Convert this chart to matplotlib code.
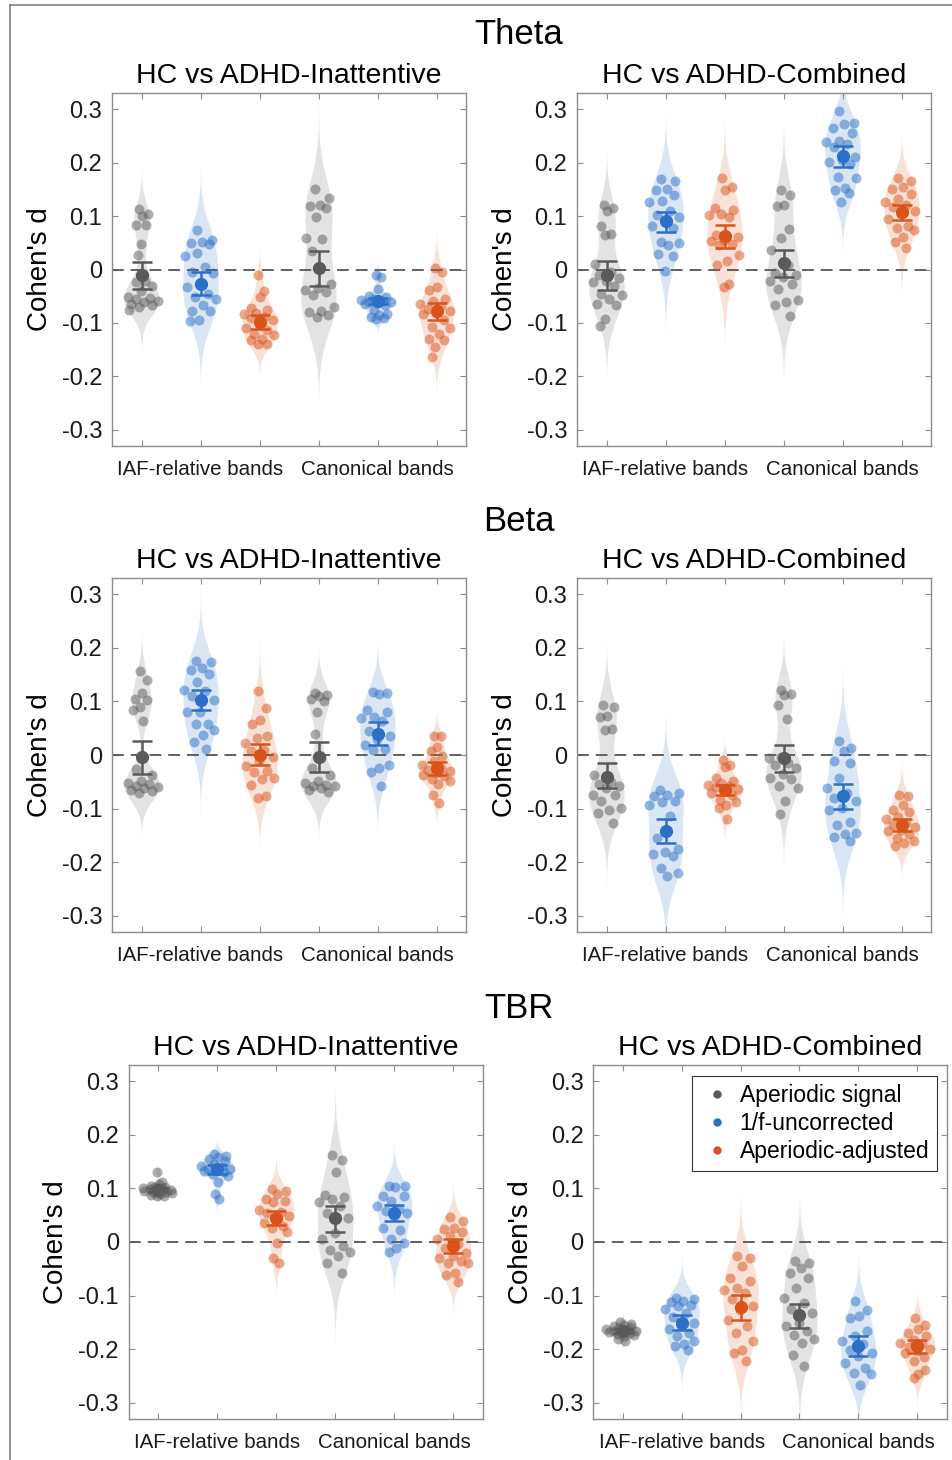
import numpy as np
import matplotlib
matplotlib.use("Agg")
import matplotlib.pyplot as plt
from matplotlib.lines import Line2D

plt.rcParams['font.family'] = ['Liberation Sans', 'DejaVu Sans']
plt.rcParams['lines.scale_dashes'] = False

# ---- data: Cohen's d per electrode ----
# order inside each panel: IAF-relative (aperiodic, uncorrected, adjusted),
# canonical (aperiodic, uncorrected, adjusted)
theta_inatt = [
    [0.113, 0.103, 0.100, 0.083, 0.083, 0.048, 0.028, -0.022, -0.024, -0.030,
     -0.040, -0.052, -0.053, -0.055, -0.058, -0.060, -0.064, -0.067, -0.070, -0.075],
    [0.074, 0.056, 0.052, 0.050, 0.047, 0.030, 0.026, 0.004, -0.004, -0.006,
     -0.025, -0.033, -0.045, -0.052, -0.056, -0.067, -0.077, -0.078, -0.094, -0.097],
    [-0.011, -0.041, -0.052, -0.072, -0.075, -0.082, -0.084, -0.088, -0.090, -0.095,
     -0.102, -0.110, -0.114, -0.120, -0.123, -0.130, -0.131, -0.139, -0.140],
    [0.151, 0.133, 0.121, 0.118, 0.115, 0.098, 0.059, 0.057, 0.034, -0.027,
     -0.035, -0.039, -0.042, -0.047, -0.070, -0.077, -0.080, -0.085, -0.088],
    [-0.011, -0.014, -0.037, -0.050, -0.052, -0.055, -0.057, -0.058, -0.060, -0.061,
     -0.062, -0.064, -0.066, -0.075, -0.084, -0.086, -0.089, -0.090, -0.092],
    [0.002, -0.005, -0.033, -0.038, -0.055, -0.059, -0.064, -0.068, -0.073, -0.078,
     -0.082, -0.084, -0.095, -0.108, -0.109, -0.120, -0.130, -0.131, -0.145, -0.163],
]
theta_inatt_mean = [-0.010, -0.027, -0.098, 0.002, -0.059, -0.078]
theta_inatt_ci = [(-0.037, 0.014), (-0.047, -0.005), (-0.112, -0.085),
                  (-0.030, 0.034), (-0.065, -0.053), (-0.095, -0.062)]

theta_comb = [
    [0.120, 0.115, 0.109, 0.082, 0.067, 0.065, 0.011, -0.005, -0.011, -0.015,
     -0.022, -0.024, -0.030, -0.045, -0.047, -0.055, -0.064, -0.067, -0.092, -0.105],
    [0.169, 0.166, 0.150, 0.148, 0.140, 0.128, 0.126, 0.110, 0.101, 0.099,
     0.090, 0.082, 0.078, 0.051, 0.049, 0.045, 0.029, 0.025, -0.003],
    [0.171, 0.155, 0.148, 0.115, 0.112, 0.104, 0.101, 0.099, 0.065, 0.060,
     0.055, 0.053, 0.047, 0.045, 0.028, 0.016, 0.009, -0.028, -0.033],
    [0.148, 0.140, 0.121, 0.118, 0.076, 0.059, 0.036, 0.009, -0.007, -0.010,
     -0.014, -0.022, -0.028, -0.036, -0.057, -0.061, -0.067, -0.087],
    [0.296, 0.274, 0.272, 0.265, 0.255, 0.241, 0.238, 0.235, 0.229, 0.210,
     0.205, 0.201, 0.198, 0.173, 0.171, 0.153, 0.149, 0.143, 0.126],
    [0.171, 0.166, 0.154, 0.150, 0.141, 0.132, 0.127, 0.120, 0.117, 0.110,
     0.103, 0.095, 0.082, 0.078, 0.073, 0.060, 0.051, 0.040],
]
theta_comb_mean = [-0.011, 0.090, 0.062, 0.012, 0.212, 0.107]
theta_comb_ci = [(-0.038, 0.015), (0.070, 0.107), (0.040, 0.084),
                 (-0.014, 0.037), (0.191, 0.230), (0.092, 0.121)]

beta_inatt = [
    [0.156, 0.140, 0.116, 0.105, 0.103, 0.089, 0.084, 0.063, -0.027, -0.037,
     -0.048, -0.052, -0.054, -0.057, -0.060, -0.062, -0.065, -0.068, -0.071],
    [0.176, 0.173, 0.162, 0.159, 0.151, 0.137, 0.122, 0.120, 0.110, 0.103,
     0.081, 0.080, 0.058, 0.057, 0.047, 0.038, 0.024, 0.012],
    [0.120, 0.088, 0.066, 0.058, 0.035, 0.032, 0.022, 0.010, 0.007, -0.004,
     -0.012, -0.021, -0.030, -0.032, -0.042, -0.044, -0.055, -0.077, -0.081],
    [0.116, 0.112, 0.110, 0.105, 0.100, 0.080, 0.039, -0.006, -0.025, -0.037,
     -0.049, -0.052, -0.055, -0.057, -0.058, -0.062, -0.065, -0.069],
    [0.117, 0.116, 0.114, 0.084, 0.081, 0.070, 0.069, 0.063, 0.044, 0.035,
     0.030, 0.019, 0.012, 0.010, -0.018, -0.024, -0.032, -0.058],
    [0.035, 0.036, 0.014, 0.007, -0.002, -0.012, -0.018, -0.024, -0.028, -0.030,
     -0.034, -0.037, -0.040, -0.044, -0.048, -0.054, -0.075, -0.089],
]
beta_inatt_mean = [-0.004, 0.102, 0.000, -0.004, 0.040, -0.025]
beta_inatt_ci = [(-0.035, 0.027), (0.083, 0.122), (-0.018, 0.020),
                 (-0.032, 0.024), (0.019, 0.061), (-0.037, -0.013)]

beta_comb = [
    [0.094, 0.089, 0.072, 0.070, 0.048, 0.047, -0.037, -0.050, -0.054, -0.057,
     -0.062, -0.074, -0.075, -0.085, -0.099, -0.102, -0.108, -0.127],
    [-0.066, -0.071, -0.074, -0.077, -0.085, -0.088, -0.093, -0.114, -0.155, -0.176,
     -0.180, -0.185, -0.188, -0.211, -0.220, -0.226],
    [-0.009, -0.018, -0.023, -0.043, -0.048, -0.052, -0.055, -0.058, -0.060, -0.064,
     -0.068, -0.071, -0.075, -0.083, -0.088, -0.093, -0.099, -0.120],
    [0.122, 0.114, 0.112, 0.094, 0.068, -0.004, -0.006, -0.015, -0.018, -0.024,
     -0.035, -0.043, -0.045, -0.058, -0.061, -0.085, -0.110],
    [0.027, 0.013, 0.007, -0.012, -0.015, -0.043, -0.061, -0.070, -0.080, -0.086,
     -0.099, -0.102, -0.124, -0.130, -0.145, -0.148, -0.153, -0.161],
    [-0.074, -0.077, -0.093, -0.102, -0.106, -0.115, -0.120, -0.127, -0.130, -0.135,
     -0.140, -0.142, -0.148, -0.155, -0.161, -0.164, -0.170],
]
beta_comb_mean = [-0.041, -0.142, -0.065, -0.006, -0.077, -0.131]
beta_comb_ci = [(-0.061, -0.014), (-0.164, -0.119), (-0.075, -0.055),
                (-0.032, 0.019), (-0.101, -0.054), (-0.141, -0.120)]

tbr_inatt = [
    [0.130, 0.111, 0.109, 0.105, 0.103, 0.102, 0.100, 0.099, 0.098, 0.097,
     0.096, 0.095, 0.094, 0.093, 0.092, 0.090, 0.088, 0.086, 0.085],
    [0.164, 0.161, 0.158, 0.155, 0.151, 0.146, 0.142, 0.139, 0.137, 0.136,
     0.134, 0.133, 0.130, 0.127, 0.123, 0.111, 0.089, 0.081],
    [0.098, 0.095, 0.089, 0.080, 0.077, 0.074, 0.060, 0.056, 0.055, 0.049,
     0.045, 0.036, 0.030, 0.027, 0.019, -0.001, -0.029, -0.039],
    [0.162, 0.153, 0.130, 0.087, 0.083, 0.080, 0.075, 0.067, 0.055, 0.044,
     0.017, 0.005, -0.007, -0.014, -0.019, -0.027, -0.040, -0.057],
    [0.105, 0.104, 0.103, 0.086, 0.085, 0.077, 0.067, 0.062, 0.058, 0.055,
     0.049, 0.027, 0.022, 0.005, -0.001, -0.011, -0.019],
    [0.047, 0.039, 0.027, 0.024, 0.019, 0.011, 0.005, -0.004, -0.011, -0.020,
     -0.026, -0.030, -0.036, -0.039, -0.040, -0.057, -0.062, -0.075],
]
tbr_inatt_mean = [0.097, 0.136, 0.045, 0.044, 0.055, -0.007]
tbr_inatt_ci = [(0.094, 0.100), (0.127, 0.144), (0.031, 0.058),
                (0.019, 0.067), (0.040, 0.069), (-0.020, 0.005)]

tbr_comb = [
    [-0.150, -0.153, -0.155, -0.157, -0.159, -0.161, -0.162, -0.164, -0.165, -0.166,
     -0.167, -0.168, -0.170, -0.172, -0.174, -0.176, -0.180, -0.185],
    [-0.104, -0.107, -0.110, -0.112, -0.117, -0.120, -0.125, -0.132, -0.140, -0.151,
     -0.157, -0.163, -0.170, -0.176, -0.185, -0.191, -0.194, -0.201],
    [-0.026, -0.030, -0.045, -0.067, -0.073, -0.085, -0.089, -0.095, -0.107, -0.120,
     -0.126, -0.145, -0.157, -0.169, -0.185, -0.201, -0.207, -0.222],
    [-0.036, -0.039, -0.048, -0.057, -0.067, -0.085, -0.104, -0.113, -0.125, -0.132,
     -0.151, -0.157, -0.165, -0.173, -0.180, -0.188, -0.210, -0.231],
    [-0.110, -0.126, -0.138, -0.141, -0.165, -0.176, -0.185, -0.191, -0.201, -0.207,
     -0.213, -0.226, -0.235, -0.244, -0.247, -0.266],
    [-0.141, -0.154, -0.163, -0.170, -0.176, -0.183, -0.188, -0.191, -0.195, -0.200,
     -0.204, -0.207, -0.215, -0.222, -0.238, -0.247, -0.254],
]
tbr_comb_mean = [-0.166, -0.151, -0.121, -0.137, -0.194, -0.194]
tbr_comb_ci = [(-0.169, -0.163), (-0.164, -0.136), (-0.145, -0.098),
               (-0.160, -0.115), (-0.213, -0.176), (-0.207, -0.183)]

band_titles = ['Theta', 'Beta', 'TBR']
panel_titles = ['HC vs ADHD-Inattentive', 'HC vs ADHD-Combined']
group_labels = ['IAF-relative bands', 'Canonical bands']
series_names = ['Aperiodic signal', '1/f-uncorrected', 'Aperiodic-adjusted']
yticks = [0.3, 0.2, 0.1, 0, -0.1, -0.2, -0.3]

# ---- styling ----
GRAY, BLUE, ORANGE = '#5a5a5a', '#2c6fc7', '#d9531a'
colors = [GRAY, BLUE, ORANGE, GRAY, BLUE, ORANGE]
HALF_W = 0.3
W, H = 952, 1460

# axes boxes in pixels (left, top, right, bottom)
boxes = [
    [(112, 93, 466, 446), (577, 93, 931, 446)],
    [(112, 578, 466, 932), (577, 578, 931, 932)],
    [(128.5, 1065, 482.7, 1419), (593.3, 1065, 946.7, 1419)],
]
band_title_y = [35, 522, 1008]

panels = [
    [(theta_inatt, theta_inatt_mean, theta_inatt_ci), (theta_comb, theta_comb_mean, theta_comb_ci)],
    [(beta_inatt, beta_inatt_mean, beta_inatt_ci), (beta_comb, beta_comb_mean, beta_comb_ci)],
    [(tbr_inatt, tbr_inatt_mean, tbr_inatt_ci), (tbr_comb, tbr_comb_mean, tbr_comb_ci)],
]


def ks_bandwidth(x):
    # same rule of thumb as MATLAB ksdensity
    sig = np.median(np.abs(x - np.median(x))) / 0.6745
    if sig <= 0:
        sig = np.std(x)
    return sig * (4.0 / (3.0 * len(x))) ** 0.2


def violin(ax, pos, vals, color):
    x = np.asarray(vals, float)
    bw = ks_bandwidth(x)
    grid = np.linspace(x.min() - 3 * bw, x.max() + 3 * bw, 200)
    dens = np.exp(-0.5 * ((grid[:, None] - x[None, :]) / bw) ** 2).sum(axis=1)
    dens = dens / dens.max() * HALF_W
    ax.fill_betweenx(grid, pos - dens, pos + dens, color=color, alpha=0.17,
                     lw=0, zorder=1)
    # spread points inside the violin outline
    n = len(x)
    jit = ((np.arange(n) * 0.618034 + 0.31) % 1.0) * 2 - 1
    spread = np.interp(x, grid, dens)
    ax.scatter(pos + jit * spread, x, s=52, color=color, alpha=0.5,
               lw=0, zorder=3)


fig = plt.figure(figsize=(W / 100, H / 100), dpi=100)

for r in range(3):
    fig.text(519 / W, 1 - band_title_y[r] / H, band_titles[r], ha='center',
             va='center', fontsize=25)
    for c in range(2):
        l, t, rr, b = boxes[r][c]
        ax = fig.add_axes([l / W, 1 - b / H, (rr - l) / W, (b - t) / H])
        data, means, cis = panels[r][c]
        ax.axhline(0, color='#555555', lw=1.3, dashes=(8.5, 5), zorder=2)
        for i, vals in enumerate(data):
            violin(ax, i + 1, vals, colors[i])
            lo, hi = cis[i]
            ax.errorbar([i + 1], [means[i]], yerr=[[means[i] - lo], [hi - means[i]]],
                        fmt='o', color=colors[i], ms=8.5, lw=1.8, capsize=7.5,
                        capthick=1.8, zorder=4)
        ax.set_xlim(0.5, 6.5)
        ax.set_ylim(-0.33, 0.33)
        ax.set_xticks([1, 2, 3, 4, 5, 6])
        ax.set_xticklabels(['', group_labels[0], '', '', group_labels[1], ''],
                           fontsize=14.8, color='#1a1a1a')
        ax.set_yticks(yticks)
        ax.set_yticklabels([('%g' % v).replace('\u2212', '-') for v in yticks],
                           fontsize=17, color='#1a1a1a')
        ax.tick_params(direction='in', top=True, right=True, length=4,
                       width=0.8, color='#8c8c8c')
        ax.tick_params(axis='x', pad=10)
        ax.tick_params(axis='y', pad=7)
        for s in ax.spines.values():
            s.set_color('#8c8c8c')
            s.set_linewidth(1.0)
        ax.set_title(panel_titles[c], fontsize=20.5, pad=7)
        ax.set_ylabel("Cohen's d", fontsize=20)
        ax.yaxis.set_label_coords(-0.168, 0.5)

        if r == 2 and c == 1:
            handles = [Line2D([], [], marker='o', ls='none', color=col, ms=5)
                       for col in [GRAY, BLUE, ORANGE]]
            leg = ax.legend(handles, series_names, loc='upper right',
                            bbox_to_anchor=(0.9734, 0.970), borderaxespad=0,
                            fontsize=16.5, frameon=True, fancybox=False,
                            framealpha=1, edgecolor='#333333', borderpad=0.35,
                            handlelength=1.5, handletextpad=0.25,
                            labelspacing=0.22)
            leg.get_frame().set_linewidth(0.8)

# outer frame of the original figure (left and top edges)
fig.add_artist(Line2D([10 / W, 10 / W], [0, 1 - 5 / H], color='#808080', lw=1.2))
fig.add_artist(Line2D([10 / W, 1], [1 - 5 / H, 1 - 5 / H], color='#808080', lw=1.2))

fig.savefig('out.png', dpi=100, facecolor='white')
